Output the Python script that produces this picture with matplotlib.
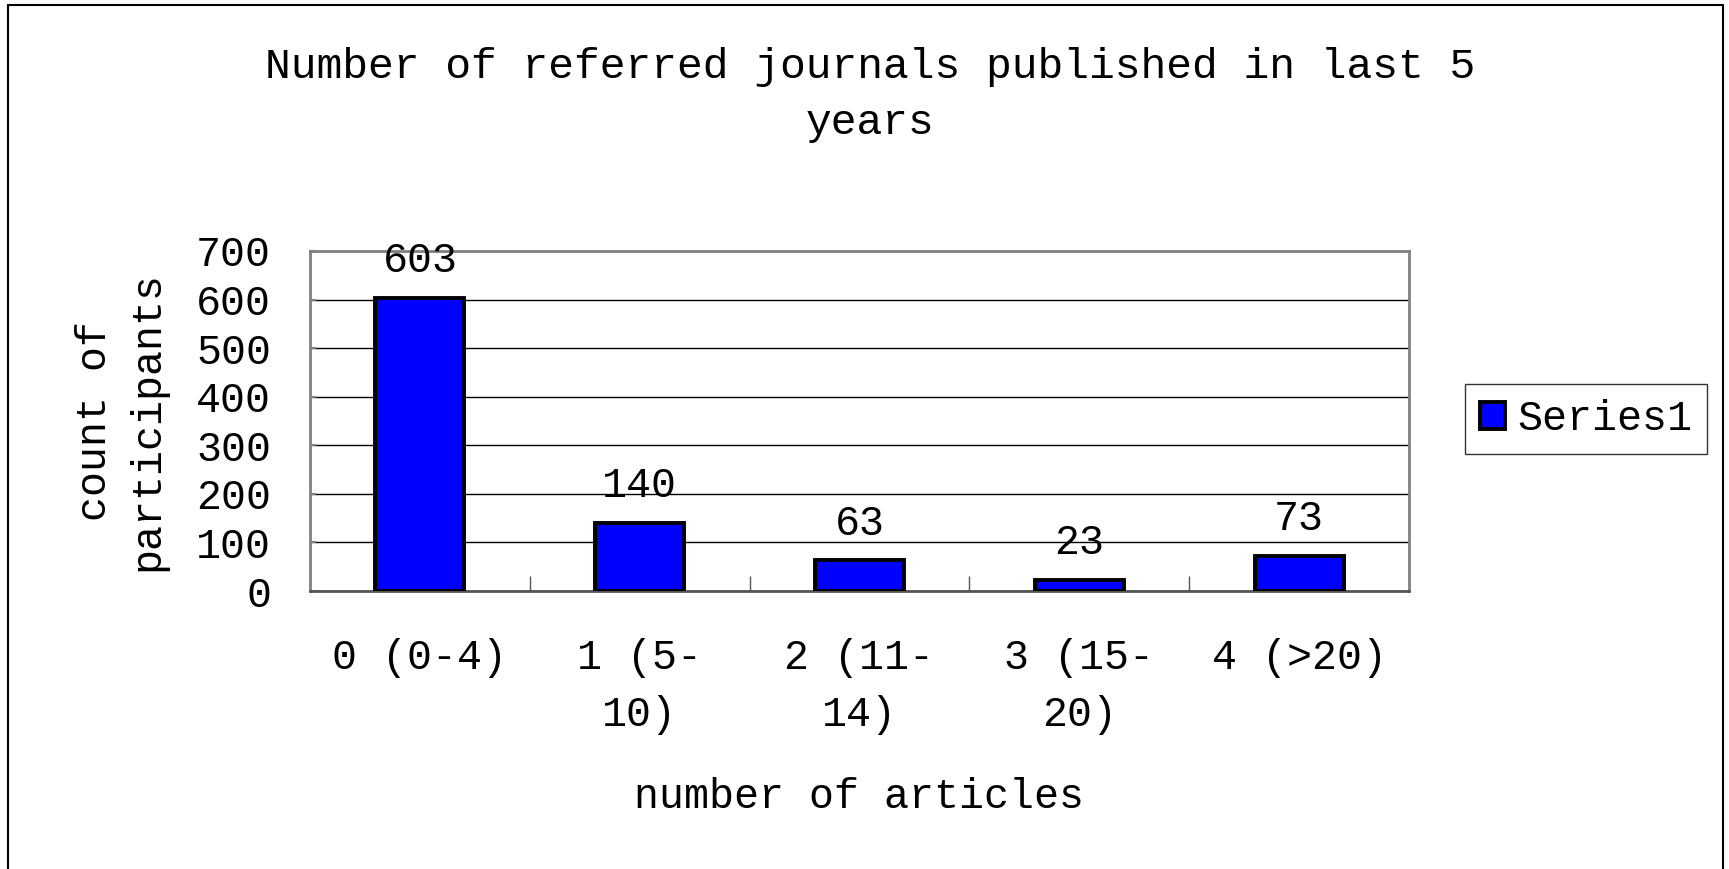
import matplotlib
matplotlib.use("Agg")
from matplotlib import pyplot as plt
from matplotlib.patches import Rectangle

# dados do gráfico
categorias = ["0 (0-4)", "1 (5-\n10)", "2 (11-\n14)", "3 (15-\n20)", "4 (>20)"]
valores = [603, 140, 63, 23, 73]
serie = "Series1"
titulo = "Number of referred journals published in last 5\nyears"
rotuloX = "number of articles"
rotuloY = "count of\nparticipants"
ticksY = [0, 100, 200, 300, 400, 500, 600, 700]

plt.rcParams["font.family"] = ["Liberation Mono", "DejaVu Sans Mono"]

fig = plt.figure(figsize=(17.29, 8.69), dpi=100)
ax = fig.add_axes([0.1793, 0.3199, 0.6356, 0.3913])

# moldura externa
fig.patches.append(Rectangle((0.0046, -0.01), 0.9919, 1.0037, transform=fig.transFigure,
                             fill=False, edgecolor="black", linewidth=1.5))

x = list(range(len(categorias)))
barras = ax.bar(x, valores, width=0.405, color="#0000FF", edgecolor="black",
                linewidth=2.8, label=serie, zorder=3)
ax.bar_label(barras, padding=12, fontsize=30)

ax.set_xlim(-0.5, len(categorias) - 0.5)
ax.set_ylim(0, 700)
ax.set_yticks(ticksY)
ax.set_xticks(x)
ax.set_xticklabels(categorias, fontsize=30, linespacing=1.55, va="top")
ax.set_xticks([i + 0.5 for i in x[:-1]], minor=True)
ax.tick_params(axis="x", which="major", length=0, pad=34)
ax.tick_params(axis="x", which="minor", direction="in", length=11, width=1, color="#555555")
ax.tick_params(axis="y", direction="in", length=4, width=1.5, color="#808080", labelsize=30, pad=28)

ax.yaxis.grid(True, color="black", linewidth=1, zorder=0)
ax.set_axisbelow(True)
for lado in ["left", "right", "top"]:
    ax.spines[lado].set_color("#808080")
    ax.spines[lado].set_linewidth(2)
ax.spines["bottom"].set_color("#555555")
ax.spines["bottom"].set_linewidth(2)

ax.set_ylabel(rotuloY, fontsize=30, linespacing=1.4, va="center")
ax.yaxis.set_label_coords(-0.172, 0.5)
ax.set_xlabel(rotuloX, fontsize=30, va="center")
ax.xaxis.set_label_coords(0.5, -0.605)

fig.suptitle(titulo, x=0.503, y=0.8907, fontsize=31, va="center", linespacing=1.5)

leg = fig.legend(loc="center", bbox_to_anchor=(0.9172, 0.5178), fontsize=30,
                 frameon=True, fancybox=False, edgecolor="black", handlelength=0.6,
                 handleheight=0.6, handletextpad=0.3, borderpad=0.35, borderaxespad=0)
leg.get_frame().set_linewidth(1)

fig.savefig("out.png", dpi=100)
